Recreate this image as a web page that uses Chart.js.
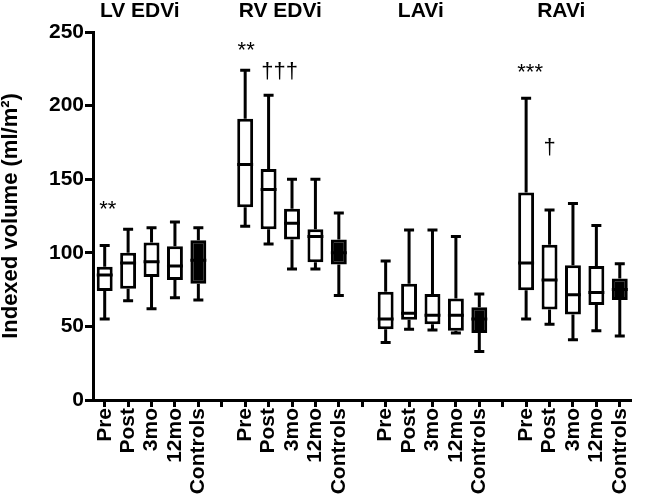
<!DOCTYPE html>
<html>
<head>
<meta charset="utf-8">
<script src="https://cdn.jsdelivr.net/npm/chart.js@4"></script>
<style>
  html, body { margin: 0; padding: 0; background: #fff; }
  #wrap { width: 646px; height: 499px; position: relative; }
</style>
</head>
<body>
<div id="wrap"><canvas id="chart"></canvas></div>
<script>
// groups and time points (a blank slot sits between groups)
const groups = ['LV EDVi', 'RV EDVi', 'LAVi', 'RAVi'];
const timepoints = ['Pre', 'Post', '3mo', '12mo', 'Controls'];

// box plot values per group, in time point order
const lvMin = [55, 67.5, 62, 69.5, 68];
const lvQ1 = [74, 75.5, 83.5, 81.5, 79];
const lvMed = [85, 93, 94, 91, 95];
const lvQ3 = [90.5, 100, 107, 104.5, 108.5];
const lvMax = [105, 116, 117, 121, 117];

const rvMin = [118, 106, 89, 89, 71];
const rvQ1 = [131, 116, 109, 93.5, 92];
const rvMed = [160, 143, 120, 111, 100];
const rvQ3 = [191, 157, 130, 116, 109];
const rvMax = [224, 207, 150, 150, 127];

const laMin = [39, 48, 47.5, 45.5, 33];
const laQ1 = [48, 54.5, 51.5, 47, 45.5];
const laMed = [55, 59, 57.5, 57.5, 55];
const laQ3 = [73.5, 79, 72, 69, 63];
const laMax = [94.5, 115.5, 115.5, 111, 72];

const raMin = [55, 51.5, 41, 47, 43.5];
const raQ1 = [74.5, 61.5, 58, 64.5, 68];
const raMed = [93, 81.5, 71.5, 73, 75];
const raQ3 = [141, 105.5, 91.5, 91, 82.5];
const raMax = [205, 129, 133.5, 118.5, 92.5];

const yTicks = [0, 50, 100, 150, 200, 250];

// significance marks: [group, time point, text, value at text baseline]
const marks = [
    [0, 0, '**', 125],
    [1, 0, '**', 233],
    [1, 1, '\u2020\u2020\u2020', 219],
    [3, 0, '***', 218],
    [3, 1, '\u2020', 167]
];
// small sideways nudge of each mark, in px
const markShift = [3, 1, 11, 4, 0];

// flatten into one category axis with a gap slot after each group
function joinGroups(parts, gap) {
    const out = [];
    parts.forEach((p, i) => {
        out.push(...p);
        if (i < parts.length - 1) out.push(gap);
    });
    return out;
}

const labels = joinGroups(groups.map(() => timepoints), '');
const mins = joinGroups([lvMin, rvMin, laMin, raMin], null);
const q1s = joinGroups([lvQ1, rvQ1, laQ1, raQ1], null);
const meds = joinGroups([lvMed, rvMed, laMed, raMed], null);
const q3s = joinGroups([lvQ3, rvQ3, laQ3, raQ3], null);
const maxs = joinGroups([lvMax, rvMax, laMax, raMax], null);

const slot = timepoints.length + 1;
const FONT = "'Liberation Sans', Arial, sans-serif";

const boxes = q1s.map((q, i) => (q === null ? null : [q, q3s[i]]));
const fills = labels.map(l => (l === 'Controls' ? '#000' : '#fff'));

// whiskers, medians, group titles and marks
const boxPlotExtras = {
    id: 'boxPlotExtras',
    afterDatasetsDraw(chart) {
        const ctx = chart.ctx;
        const x = chart.scales.x;
        const y = chart.scales.y;
        const bars = chart.getDatasetMeta(0).data;
        ctx.save();
        ctx.strokeStyle = '#000';
        ctx.lineWidth = 3;
        ctx.lineCap = 'butt';
        meds.forEach((m, i) => {
            if (m === null) return;
            const px = x.getPixelForValue(i);
            const half = bars[i].width / 2;
            const cap = 5;
            ctx.beginPath();
            ctx.moveTo(px, y.getPixelForValue(q3s[i]));
            ctx.lineTo(px, y.getPixelForValue(maxs[i]));
            ctx.moveTo(px - cap, y.getPixelForValue(maxs[i]));
            ctx.lineTo(px + cap, y.getPixelForValue(maxs[i]));
            ctx.moveTo(px, y.getPixelForValue(q1s[i]));
            ctx.lineTo(px, y.getPixelForValue(mins[i]));
            ctx.moveTo(px - cap, y.getPixelForValue(mins[i]));
            ctx.lineTo(px + cap, y.getPixelForValue(mins[i]));
            ctx.moveTo(px - half, y.getPixelForValue(m));
            ctx.lineTo(px + half, y.getPixelForValue(m));
            ctx.stroke();
        });

        ctx.fillStyle = '#000';
        ctx.textAlign = 'center';
        ctx.textBaseline = 'middle';
        ctx.font = 'bold 21px ' + FONT;
        groups.forEach((g, gi) => {
            ctx.fillText(g, x.getPixelForValue(gi * slot + 1.5), 11);
        });

        ctx.textBaseline = 'alphabetic';
        ctx.font = '22px ' + FONT;
        marks.forEach(([g, t, text, v], k) => {
            ctx.fillText(text, x.getPixelForValue(g * slot + t) + markShift[k], y.getPixelForValue(v));
        });
        ctx.restore();
    }
};

new Chart(document.getElementById('chart'), {
    type: 'bar',
    data: {
        labels: labels,
        datasets: [{
            data: boxes,
            backgroundColor: fills,
            borderColor: '#000',
            borderWidth: 3,
            borderSkipped: false,
            categoryPercentage: 1,
            barPercentage: 0.68
        }]
    },
    options: {
        responsive: true,
        maintainAspectRatio: false,
        animation: false,
        layout: { padding: { top: 32, right: 1, left: 0, bottom: 0 } },
        plugins: {
            legend: { display: false },
            tooltip: { enabled: false }
        },
        scales: {
            x: {
                offset: true,
                afterFit(s) { s.height = 99; },
                border: { display: true, color: '#000', width: 3 },
                grid: {
                    offset: false,
                    drawOnChartArea: false,
                    drawTicks: true,
                    tickLength: 7,
                    tickWidth: 3,
                    tickColor: '#000'
                },
                ticks: {
                    autoSkip: false,
                    minRotation: 90,
                    maxRotation: 90,
                    padding: 1,
                    color: '#000',
                    font: { family: FONT, size: 21, weight: 'bold' }
                }
            },
            y: {
                min: 0,
                max: 250,
                afterFit(s) { s.width = 93; },
                afterBuildTicks(s) { s.ticks = yTicks.map(v => ({ value: v })); },
                border: { display: true, color: '#000', width: 3 },
                grid: {
                    drawOnChartArea: false,
                    drawTicks: true,
                    tickLength: 8,
                    tickWidth: 3,
                    tickColor: '#000'
                },
                ticks: {
                    padding: 1,
                    color: '#000',
                    font: { family: FONT, size: 21, weight: 'bold' }
                },
                title: {
                    display: true,
                    text: 'Indexed volume (ml/m\u00b2)',
                    color: '#000',
                    padding: 0,
                    font: { family: FONT, size: 22, weight: 'bold', lineHeight: 1 }
                }
            }
        }
    },
    plugins: [boxPlotExtras]
});
</script>
</body>
</html>
